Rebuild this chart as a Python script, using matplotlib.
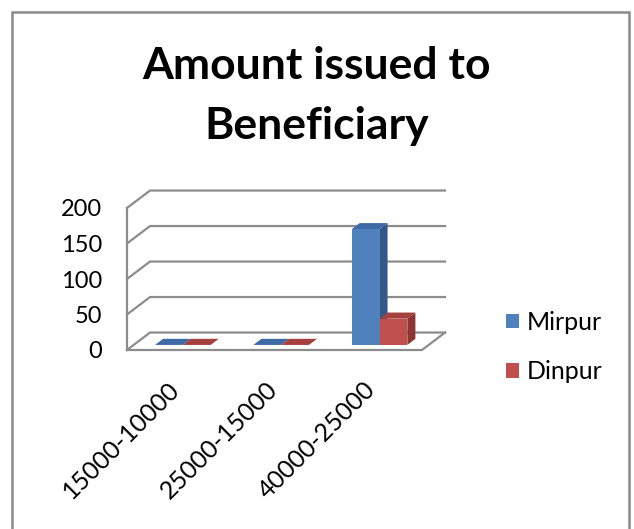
import matplotlib.pyplot as plt
from matplotlib.patches import Polygon, Rectangle
from matplotlib.transforms import ScaledTranslation

categories = ['15000-10000', '25000-15000', '40000-25000']
series = ['Mirpur', 'Dinpur']
mirpur = [0, 0, 163]
dinpur = [0, 0, 37]
yticks = [0, 50, 100, 150, 200]

front_colors = {'Mirpur': '#4F81BD', 'Dinpur': '#C0504D'}
side_colors = {'Mirpur': '#34578A', 'Dinpur': '#8E3431'}
top_colors = {'Mirpur': '#3E6BA6', 'Dinpur': '#A6403D'}

W, H = 634, 529
fig = plt.figure(figsize=(W / 100, H / 100), dpi=100)

# plot area = front plane of the 3d box (pixels 127..422 x, 208..350 y)
ax = fig.add_axes([127 / W, (H - 350) / H, 295 / W, 142 / H])
ax.set_xlim(-0.5, 2.5)
ax.set_ylim(0, 200)
for s in ax.spines.values():
    s.set_visible(False)

# depth of the box in data units
DX, DY = 0.234, 24.6
grid_col = '#8c8c8c'
lw = 1.6

# walls and gridlines
ax.plot([-0.5, -0.5], [0, 200], color=grid_col, lw=lw, clip_on=False, zorder=1)
for v in yticks:
    ax.plot([-0.5, -0.5 + DX, 2.5 + DX], [v, v + DY, v + DY],
            color=grid_col, lw=lw, clip_on=False, zorder=1)
ax.plot([-0.5, 2.5, 2.5 + DX], [0, 0, DY], color=grid_col, lw=lw,
        clip_on=False, zorder=1)

# 3d-looking bars
bw = 0.283
d0, d1 = 0.29, 0.64
values = {'Mirpur': mirpur, 'Dinpur': dinpur}
z = 3
for i in range(len(categories)):
    for k, name in enumerate(series):
        h = values[name][i]
        x0 = i - bw + k * bw
        fx, fy = d0 * DX, d0 * DY
        bx, by = d1 * DX, d1 * DY
        if h > 0:
            ax.bar(x0 + fx, h, width=bw, bottom=fy, align='edge',
                   color=front_colors[name], lw=0, zorder=z + 1, clip_on=False)
            side = [(x0 + bw + fx, fy), (x0 + bw + bx, by),
                    (x0 + bw + bx, h + by), (x0 + bw + fx, h + fy)]
            ax.add_patch(Polygon(side, closed=True, fc=side_colors[name],
                                 lw=0, zorder=z, clip_on=False))
        top = [(x0 + fx, h + fy), (x0 + bw + fx, h + fy),
               (x0 + bw + bx, h + by), (x0 + bx, h + by)]
        ax.add_patch(Polygon(top, closed=True, fc=top_colors[name],
                             lw=0, zorder=z, clip_on=False))
        z += 2

# legend handles
handles = [Rectangle((0, 0), 1, 1, fc=front_colors[n]) for n in series]
fig.legend(handles, series, loc='center left',
           bbox_to_anchor=(506 / W, (H - 347) / H), frameon=False,
           prop={'family': 'Lato', 'size': 18}, borderpad=0, borderaxespad=0,
           handlelength=0.52, handleheight=0.52, handletextpad=0.3,
           labelspacing=1.05)

ax.set_yticks(yticks)
ax.set_yticklabels([str(v) for v in yticks], fontsize=17, family='Lato')
ax.tick_params(axis='y', length=0, pad=18)
ax.set_xticks(range(len(categories)))
ax.set_xticklabels(categories, rotation=45, ha='right',
                   rotation_mode='anchor', fontsize=18, family='Lato')
ax.tick_params(axis='x', length=0, pad=20)
shift = ScaledTranslation(-0.09, 0, fig.dpi_scale_trans)
for lbl in ax.get_xticklabels():
    lbl.set_transform(lbl.get_transform() + shift)

fig.text(317 / W, (H - 46) / H, 'Amount issued to\nBeneficiary',
         ha='center', va='top', fontsize=32, fontweight='bold',
         family='Lato', linespacing=1.6)

# chart border
fig.patches.append(Rectangle((12 / W, -0.1), 617 / W, 1.1 - 12 / H,
                             transform=fig.transFigure, fill=False,
                             ec='#8a8a8a', lw=1.8))

fig.savefig('out.png', dpi=100)
